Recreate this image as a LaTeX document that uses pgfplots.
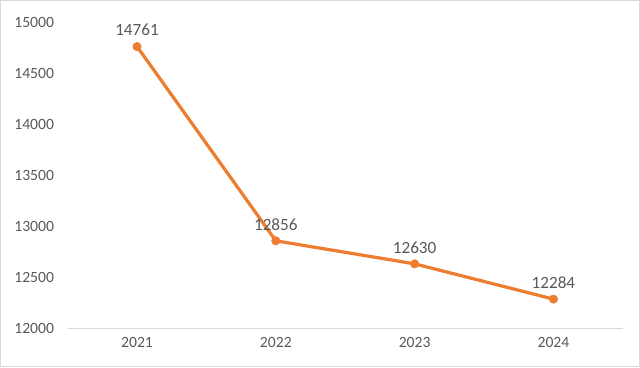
\documentclass[border=0pt]{standalone}
\usepackage{pgfplots}
\pgfplotsset{compat=1.18}
\usepackage{fontspec}
\setmainfont{Carlito}
\definecolor{lineorange}{HTML}{ED7D31}
\definecolor{txtgray}{HTML}{595959}
\definecolor{framegray}{HTML}{D9D9D9}
\begin{document}
\begin{tikzpicture}
\useasboundingbox (-67bp,-39bp) rectangle (567bp,325bp);
\draw[framegray, line width=1bp] (-66.5bp,-38.5bp) rectangle (566.5bp,324.5bp);
\begin{axis}[
  at={(0,0)}, anchor=south west,
  scale only axis,
  width=550bp, height=303bp,
  xmin=-0.5, xmax=3.5,
  ymin=12000, ymax=15000,
  xtick={0,1,2,3},
  xticklabels={2021,2022,2023,2024},
  ytick={12000,12500,13000,13500,14000,14500,15000},
  yticklabels={},
  axis x line*=bottom,
  axis y line=none,
  x axis line style={framegray, line width=1bp, -},
  major tick length=0pt,
  tick style={draw=none},
  ticklabel style={font=\fontsize{15.5bp}{17bp}\selectfont, text=txtgray},
  /pgf/number format/assume math mode=true,
  /pgf/number format/1000 sep={},
  scaled y ticks=false,
  xticklabel style={yshift=-6bp},
  clip=false,
]
\addplot[lineorange, line width=3.2bp, mark=*, mark size=4.2bp,
  mark options={solid, fill=lineorange, draw=lineorange, line width=0.5bp},
  nodes near coords,
  every node near coord/.append style={font=\fontsize{17bp}{19bp}\selectfont, text=txtgray, anchor=south, yshift=7bp},
  point meta=explicit symbolic]
  table[meta=label] {
x y label
0 14761 14761
1 12856 12856
2 12630 12630
3 12284 12284
};
\end{axis}
\begin{axis}[
  at={(0,0)}, anchor=south west,
  scale only axis,
  width=550bp, height=303bp,
  xmin=-0.5, xmax=3.5,
  ymin=12000, ymax=15000,
  ytick={12000,12500,13000,13500,14000,14500,15000},
  xtick=\empty,
  axis line style={draw=none},
  tick style={draw=none},
  yticklabel style={font=\fontsize{15.5bp}{17bp}\selectfont, text=txtgray, xshift=-10bp},
  /pgf/number format/assume math mode=true,
  /pgf/number format/1000 sep={},
  scaled y ticks=false,
]
\end{axis}
\end{tikzpicture}
\end{document}
